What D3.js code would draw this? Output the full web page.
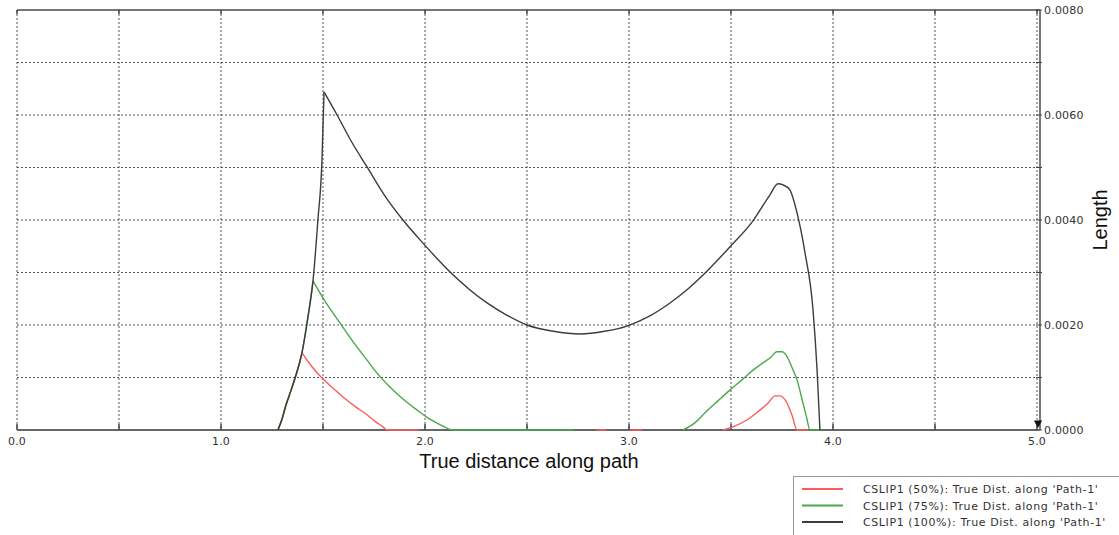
<!DOCTYPE html>
<html>
<head>
<meta charset="utf-8">
<script src="https://cdn.jsdelivr.net/npm/d3@7"></script>
<style>
  body { margin: 0; background: #fff; }
  svg { display: block; }
</style>
</head>
<body>
<div id="chart"></div>
<script>
// values: [distance, length], null marks a gap
const series50 = [
    [1.279, 0], [1.300, 0.00022], [1.319, 0.00048], [1.342, 0.00074], [1.363, 0.00099], [1.397, 0.00147],
    [1.445, 0.00121], [1.495, 0.00099], [1.548, 0.00080], [1.598, 0.00063], [1.657, 0.00045],
    [1.716, 0.00029], [1.760, 0.00015], [1.794, 0.00006], [1.814, 0], [1.97, 0],
    null,
    [2.84, 0], [2.89, 0],
    null,
    [3.005, 0], [3.064, 0],
    null,
    [3.461, 0], [3.520, 0.00008], [3.578, 0.00019], [3.630, 0.00034], [3.681, 0.00051], [3.716, 0.00065],
    [3.740, 0.00065], [3.775, 0.00051], [3.800, 0.00027], [3.824, 0], [3.877, 0]
]
const series75 = [
    [1.279, 0], [1.300, 0.00022], [1.319, 0.00048], [1.342, 0.00074], [1.363, 0.00099], [1.397, 0.00147],
    [1.425, 0.00212], [1.451, 0.00284],
    [1.515, 0.00242], [1.583, 0.00204], [1.650, 0.00167], [1.716, 0.00133], [1.770, 0.00106],
    [1.828, 0.00082], [1.895, 0.00058], [1.961, 0.00038], [2.010, 0.00024], [2.059, 0.00013],
    [2.100, 0.00005], [2.132, 0], [2.73, 0],
    null,
    [3.265, 0], [3.324, 0.00014], [3.373, 0.00033], [3.435, 0.00055], [3.495, 0.00076], [3.552, 0.00095],
    [3.608, 0.00114], [3.650, 0.00126], [3.691, 0.00137], [3.725, 0.00149], [3.750, 0.00149],
    [3.779, 0.00137], [3.800, 0.00118], [3.824, 0.00095], [3.853, 0.00051], [3.870, 0.00025],
    [3.887, 0], [3.936, 0]
]
const series100 = [
    [1.279, 0], [1.300, 0.00022], [1.319, 0.00048], [1.342, 0.00074], [1.363, 0.00099], [1.397, 0.00147],
    [1.425, 0.00212], [1.451, 0.00284],
    [1.475, 0.0040], [1.495, 0.00514], [1.505, 0.00644], [1.569, 0.0060], [1.640, 0.00549],
    [1.716, 0.00501], [1.800, 0.00448], [1.892, 0.0040], [1.990, 0.00356], [2.123, 0.00301],
    [2.304, 0.00242], [2.400, 0.00219], [2.500, 0.0020], [2.630, 0.00188], [2.760, 0.00183], [2.880, 0.00188],
    [2.990, 0.00198], [3.100, 0.00217], [3.201, 0.00242], [3.290, 0.00269], [3.373, 0.00299],
    [3.495, 0.00349], [3.603, 0.00396], [3.691, 0.00448], [3.730, 0.00469], [3.755, 0.00467],
    [3.789, 0.00457], [3.824, 0.00413], [3.863, 0.00337], [3.902, 0.00229], [3.922, 0.00114],
    [3.936, 0]
]
// distance of the sharp peak of each series (50%, 75%, 100%)
const sharpPeaks = [1.397, 1.451, 1.505]
const seriesNames = ["CSLIP1 (50%): True Dist. along 'Path-1'",
    "CSLIP1 (75%): True Dist. along 'Path-1'",
    "CSLIP1 (100%): True Dist. along 'Path-1'"]
const seriesColors = ["#ff5a5a", "#4aa84a", "#3c3c3c"]
const xTicks = [0, 1, 2, 3, 4, 5]
const yTicks = [0, 0.002, 0.004, 0.006, 0.008]

var width = 1119
var height = 535
var margin = { top: 10, right: 82, bottom: 105, left: 17 }

var svg = d3.select("#chart")
    .append("svg")
    .attr("width", width)
    .attr("height", height)

var x = d3.scaleLinear().domain([0, 5]).range([margin.left, width - margin.right])
var y = d3.scaleLinear().domain([0, 0.008]).range([height - margin.bottom, margin.top])

var x0 = x(0), x1 = x(5), yb = y(0), yt = y(0.008)

// dotted grid
var grid = svg.append("g")
grid.selectAll(".vgrid")
    .data(d3.range(0, 5.01, 0.5))
    .enter().append("line")
    .attr("x1", d => x(d)).attr("x2", d => x(d))
    .attr("y1", yt).attr("y2", yb)
    .style("stroke", "#555")
    .style("stroke-width", 1)
    .style("stroke-dasharray", "2,2")
grid.selectAll(".hgrid")
    .data(d3.range(0.001, 0.0075, 0.001))
    .enter().append("line")
    .attr("x1", x0).attr("x2", x1)
    .attr("y1", d => y(d)).attr("y2", d => y(d))
    .style("stroke", "#555")
    .style("stroke-width", 1)
    .style("stroke-dasharray", "2,2")

// top border with little ticks
svg.append("line")
    .attr("x1", x0).attr("x2", x1 + 3)
    .attr("y1", yt).attr("y2", yt)
    .style("stroke", "#777")
    .style("stroke-width", 2)
svg.selectAll(".ttick")
    .data(d3.range(0, 5.01, 0.5))
    .enter().append("line")
    .attr("x1", d => x(d)).attr("x2", d => x(d))
    .attr("y1", yt).attr("y2", yt + 4)
    .style("stroke", "#444")
    .style("stroke-width", 1.5)

// right axis
var xr = x1 + 3
svg.append("line")
    .attr("x1", xr).attr("x2", xr)
    .attr("y1", yt).attr("y2", yb)
    .style("stroke", "#777")
    .style("stroke-width", 2)
svg.selectAll(".rtick")
    .data(d3.range(0, 0.00801, 0.001))
    .enter().append("line")
    .attr("x1", xr - 4).attr("x2", xr + 2)
    .attr("y1", d => y(d)).attr("y2", d => y(d))
    .style("stroke", "#444")
    .style("stroke-width", 1)
svg.selectAll(".rlabel")
    .data(yTicks)
    .enter().append("text")
    .attr("x", xr + 4)
    .attr("y", d => y(d) + 4)
    .style("font-family", "DejaVu Sans, sans-serif")
    .style("font-size", "11px")
    .style("letter-spacing", "0.2px")
    .style("fill", "#333")
    .text(d => d.toFixed(4))

// bottom axis
svg.append("line")
    .attr("x1", x0).attr("x2", xr)
    .attr("y1", yb).attr("y2", yb)
    .style("stroke", "#666")
    .style("stroke-width", 2)
svg.selectAll(".btick")
    .data(d3.range(0, 5.01, 0.5))
    .enter().append("line")
    .attr("x1", d => x(d)).attr("x2", d => x(d))
    .attr("y1", yb).attr("y2", yb - 6)
    .style("stroke", "#444")
    .style("stroke-width", 1.5)
svg.selectAll(".blabel")
    .data(xTicks)
    .enter().append("text")
    .attr("x", d => x(d))
    .attr("y", yb + 15)
    .style("text-anchor", "middle")
    .style("font-family", "DejaVu Sans, sans-serif")
    .style("font-size", "11px")
    .style("letter-spacing", "0.2px")
    .style("fill", "#333")
    .text(d => d.toFixed(1))

// split a series into smooth pieces: at gaps and at its sharp peak
function pieces(data, peak) {
    var out = [], cur = []
    data.forEach(function (d) {
        if (d == null) {
            if (cur.length) out.push(cur)
            cur = []
            return
        }
        cur.push(d)
        if (d[0] == peak) {
            out.push(cur)
            cur = [d]
        }
    })
    if (cur.length > 1) out.push(cur)
    return out
}

var line = d3.line()
    .x(d => x(d[0]))
    .y(d => y(d[1]))
    .curve(d3.curveMonotoneX)

var allSeries = [series50, series75, series100]
allSeries.forEach(function (s, i) {
    svg.append("g").selectAll("path")
        .data(pieces(s, sharpPeaks[i]))
        .enter().append("path")
        .attr("d", line)
        .style("fill", "none")
        .style("stroke", seriesColors[i])
        .style("stroke-width", 1.4)
        .style("stroke-linejoin", "round")
})

// little marker at the end of the axis
svg.append("path")
    .attr("d", d3.symbol().type(d3.symbolTriangle).size(30))
    .attr("transform", "translate(" + (x1 + 1) + "," + (yb - 7) + ") rotate(180)")
    .style("fill", "#111")

// axis titles
svg.append("text")
    .attr("x", (x0 + x1) / 2 + 2)
    .attr("y", yb + 38)
    .style("text-anchor", "middle")
    .style("font-family", "Liberation Sans, Arial, sans-serif")
    .style("font-size", "20px")
    .style("fill", "#111")
    .text("True distance along path")
svg.append("text")
    .attr("transform", "translate(1107,220) rotate(-90)")
    .style("text-anchor", "middle")
    .style("font-family", "Liberation Sans, Arial, sans-serif")
    .style("font-size", "20px")
    .style("fill", "#111")
    .text("Length")

// legend
var legend = svg.append("g").attr("transform", "translate(793,476)")
legend.append("rect")
    .attr("x", 0.5).attr("y", 0.5)
    .attr("width", 340).attr("height", 70)
    .style("fill", "#fff")
    .style("stroke", "#999")
    .style("stroke-width", 1)
var item = legend.selectAll(".item")
    .data(seriesNames)
    .enter().append("g")
    .attr("transform", (d, i) => "translate(0," + (13 + i * 16.5) + ")")
item.append("line")
    .attr("x1", 9).attr("x2", 50)
    .attr("y1", 0).attr("y2", 0)
    .style("stroke", (d, i) => seriesColors[i])
    .style("stroke-width", 2)
item.append("text")
    .attr("x", 70)
    .attr("y", 4)
    .style("font-family", "DejaVu Sans, sans-serif")
    .style("font-size", "11px")
    .style("letter-spacing", "0.6px")
    .style("fill", "#333")
    .text(d => d)
</script>
</body>
</html>
